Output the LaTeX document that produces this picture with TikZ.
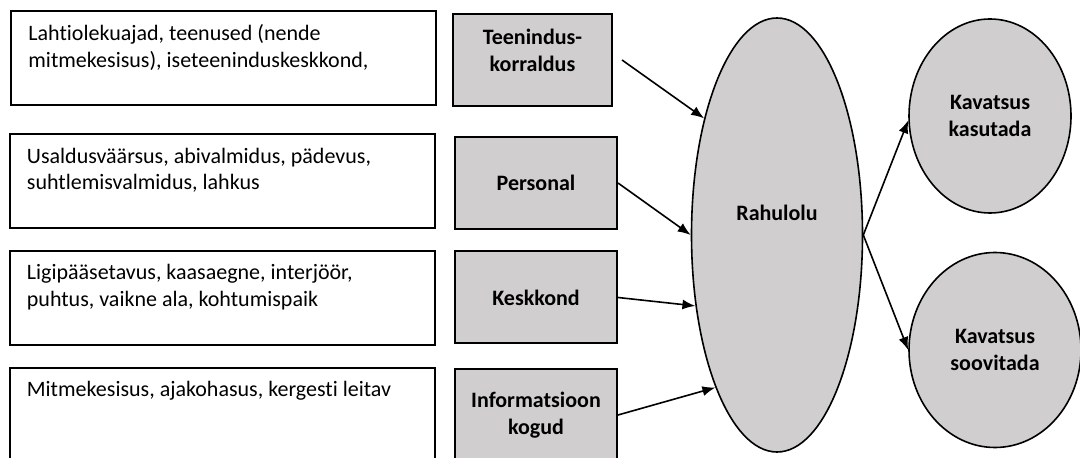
\documentclass[tikz,border=0pt]{standalone}
\usepackage{fontspec}
\setmainfont{Carlito}[Ligatures=NoCommon]
\usetikzlibrary{shapes, arrows.meta}

\definecolor{boxgray}{HTML}{D0CECE}

\begin{document}
\begin{tikzpicture}[x=0.5pt, y=-0.5pt,
	>={Latex[length=6.5pt, width=5pt]},
	txt/.style={font=\fontsize{11}{13.4}\selectfont},
	whitebox/.style={draw, rectangle, line width=1pt, fill=white,
		minimum width=212.5pt, minimum height=47pt},
	graybox/.style={draw, rectangle, line width=1pt, fill=boxgray,
		minimum width=81pt, minimum height=46pt, align=center,
		font=\fontsize{11}{13.4}\selectfont\bfseries},
	oval/.style={draw, ellipse, line width=0.8pt, fill=boxgray, align=center,
		font=\fontsize{11}{13.4}\selectfont\bfseries},
	link/.style={->, line width=0.8pt}]

	\clip (0,0) rectangle (1080,458);

	% left column
	\node[whitebox] (teenbox) at (223.5,58.5) {};
	\node[whitebox] (persbox) at (222,181.5) {};
	\node[whitebox] (keskbox) at (222,298) {};
	\node[whitebox] (infobox) at (222,415) {};

	\node[txt, anchor=north west, inner sep=0, align=left] (teentxt)
		at ([shift={(18,14)}]teenbox.north west)
		{Lahtiolekuajad, teenused (nende\\mitmekesisus), iseteeninduskeskkond,};
	\node[txt, anchor=north west, inner sep=0, align=left] (perstxt)
		at ([shift={(18,14)}]persbox.north west)
		{Usaldusväärsus, abivalmidus, pädevus,\\suhtlemisvalmidus, lahkus};
	\node[txt, anchor=north west, inner sep=0, align=left] (keskttxt)
		at ([shift={(18,14)}]keskbox.north west)
		{Ligipääsetavus, kaasaegne, interjöör,\\puhtus, vaikne ala, kohtumispaik};
	\node[txt, anchor=north west, inner sep=0, align=left] (infotxt)
		at ([shift={(18,14)}]infobox.north west)
		{Mitmekesisus, ajakohasus, kergesti leitav};

	% factors
	\node[graybox, minimum width=79.5pt] (teen) at (532.5,60) {};
	\node[font=\fontsize{11}{13.4}\selectfont\bfseries, align=center] (teenlbl)
		at ([yshift=5pt]teen.center) {Teenindus-\\korraldus};
	\node[graybox] (pers) at (536,183) {Personal};
	\node[graybox] (kesk) at (536,297.5) {Keskkond};
	\node[graybox] (info) at (536,415) {Informatsioon\\kogud};

	% outcome
	\node[oval, minimum width=85.5pt, minimum height=217pt] (rahulolu)
		at (777,235) {};
	\node[font=\fontsize{11}{13.4}\selectfont\bfseries] (rahlbl)
		at ([yshift=11pt]rahulolu.center) {Rahulolu};
	\node[oval, minimum width=81pt, minimum height=97pt] (kasutada)
		at (990,116) {Kavatsus\\kasutada};
	\node[oval, minimum width=86pt, minimum height=97.5pt] (soovitada)
		at (995,350) {Kavatsus\\soovitada};

	\draw[link] ([xshift=4.5pt]teen.east) -- (rahulolu.122);
	\draw[link] (pers.east) -- (rahulolu.180);
	\draw[link] (kesk.east) -- (rahulolu.221);
	\draw[link] (info.east) -- (rahulolu.248);
	\draw[link] (rahulolu.east) -- (kasutada.183);
	\draw[link] (rahulolu.east) -- (soovitada.west);
\end{tikzpicture}
\end{document}
